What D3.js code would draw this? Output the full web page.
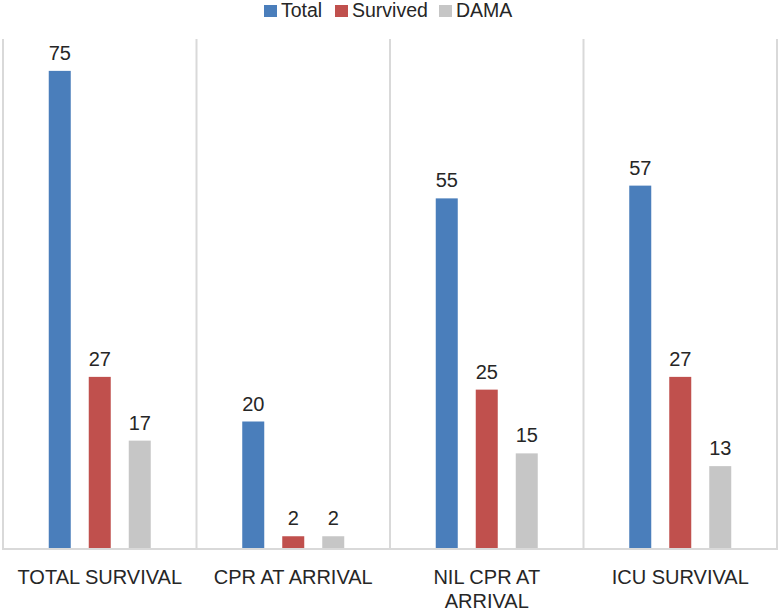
<!DOCTYPE html>
<html>
<head>
<meta charset="utf-8">
<script src="https://cdn.jsdelivr.net/npm/d3@7"></script>
<style>
  body { margin: 0; background: #fff; }
  svg text { font-family: "Liberation Sans", Arial, sans-serif; fill: #262626; }
</style>
</head>
<body>
<svg width="780" height="612"></svg>
<script>
var categories = ["TOTAL SURVIVAL", "CPR AT ARRIVAL", "NIL CPR AT ARRIVAL", "ICU SURVIVAL"];
var seriesNames = ["Total", "Survived", "DAMA"];
var total = [75, 20, 55, 57];
var survived = [27, 2, 25, 27];
var dama = [17, 2, 15, 13];
var colors = ["#4a7ebb", "#c0504d", "#c6c6c6"];

var svg = d3.select("svg");
var plotLeft = 3, plotRight = 777, plotTop = 39, plotBottom = 549;

var x = d3.scaleBand().domain(categories).range([plotLeft, plotRight]);
var y = d3.scaleLinear().domain([0, 80]).range([plotBottom, plotTop]);
// 3 bars of 22px with 18px gaps, centred in each category
var xs = d3.scaleBand().domain(seriesNames).range([-51, 51]).paddingInner(18 / 40).paddingOuter(0);

var series = [total, survived, dama];

// vertical separators
var bounds = categories.map(function(c) { return x(c); }).concat([plotRight]);
svg.selectAll(".sep").data(bounds).enter().append("line")
  .attr("x1", function(d) { return d; }).attr("x2", function(d) { return d; })
  .attr("y1", plotTop).attr("y2", plotBottom)
  .attr("stroke", "#d9d9d9").attr("stroke-width", 2);

var g = svg.selectAll(".grp").data(categories).enter().append("g")
  .attr("transform", function(c) { return "translate(" + (x(c) + x.bandwidth() / 2) + ",0)"; });

seriesNames.forEach(function(s, si) {
  g.append("rect")
    .attr("x", xs(s))
    .attr("width", xs.bandwidth())
    .attr("y", function(c, i) { return y(series[si][i]); })
    .attr("height", function(c, i) { return plotBottom - y(series[si][i]); })
    .attr("fill", colors[si]);
  g.append("text")
    .attr("x", xs(s) + xs.bandwidth() / 2)
    .attr("y", function(c, i) { return y(series[si][i]) - 11; })
    .attr("text-anchor", "middle")
    .attr("font-size", "20px")
    .text(function(c, i) { return series[si][i]; });
});

// baseline
svg.append("line").attr("x1", plotLeft - 1).attr("x2", plotRight + 1)
  .attr("y1", plotBottom).attr("y2", plotBottom)
  .attr("stroke", "#d9d9d9").attr("stroke-width", 2);

// category labels (wrapped)
var wrapped = {"NIL CPR AT ARRIVAL": ["NIL CPR AT", "ARRIVAL"]};
g.each(function(c) {
  var lines = wrapped[c] || [c];
  var t = d3.select(this).append("text")
    .attr("text-anchor", "middle").attr("font-size", "20px");
  lines.forEach(function(l, k) {
    t.append("tspan").attr("x", 0).attr("y", 584 + k * 24).text(l);
  });
});

// legend
var legendX = [264, 335, 439];
var lg = svg.selectAll(".leg").data(seriesNames).enter().append("g")
  .attr("transform", function(d, i) { return "translate(" + legendX[i] + ",5)"; });
lg.append("rect").attr("width", 13).attr("height", 12)
  .attr("fill", function(d, i) { return colors[i]; });
lg.append("text").attr("x", 17).attr("y", 11.5).attr("font-size", "19.5px")
  .text(function(d) { return d; });
</script>
</body>
</html>
